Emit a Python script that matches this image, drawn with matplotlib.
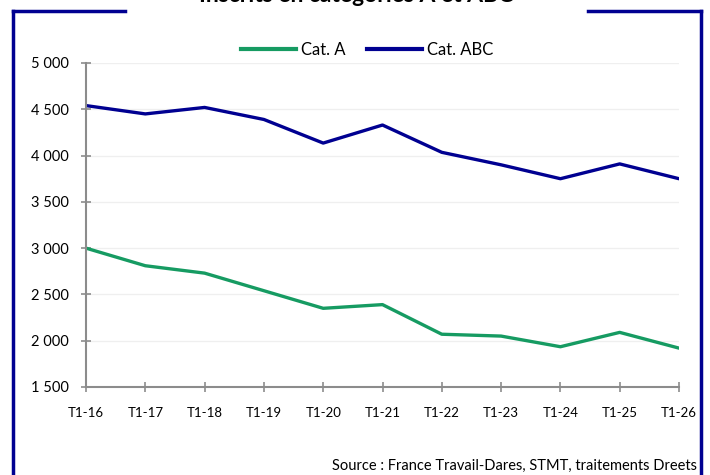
import matplotlib.pyplot as plt
from matplotlib.lines import Line2D

periodes = ["T1-16", "T1-17", "T1-18", "T1-19", "T1-20", "T1-21",
            "T1-22", "T1-23", "T1-24", "T1-25", "T1-26"]
cat_a = [3000, 2810, 2730, 2540, 2350, 2390, 2070, 2050, 1935, 2090, 1920]
cat_abc = [4540, 4450, 4520, 4390, 4135, 4330, 4035, 3900, 3750, 3910, 3750]
y_ticks = [1500, 2000, 2500, 3000, 3500, 4000, 4500, 5000]

vert = "#169B62"
bleu = "#000091"
gris = "#8c8c8c"

plt.rcParams['font.family'] = ['Lato', 'DejaVu Sans']

fig = plt.figure(figsize=(7.1, 4.75), dpi=100)
ax = fig.add_axes([86 / 710, 1 - 387 / 475, (679 - 86) / 710, (387 - 63) / 475])

x = list(range(len(periodes)))
ax.plot(x, cat_a, color=vert, lw=2.4, label="Cat. A", solid_capstyle='round')
ax.plot(x, cat_abc, color=bleu, lw=2.4, label="Cat. ABC", solid_capstyle='round')

ax.set_xlim(0, len(periodes) - 1)
ax.set_ylim(1500, 5000)
ax.set_xticks(x)
ax.set_xticklabels(periodes, fontsize=9.5)
ax.set_yticks(y_ticks)
ax.set_yticklabels([f"{v:,}".replace(",", " ") for v in y_ticks], fontsize=10.5)
ax.grid(axis='y', color="#efefef", lw=0.9)
ax.set_axisbelow(True)
for s in ['top', 'right']:
    ax.spines[s].set_visible(False)
for s in ['left', 'bottom']:
    ax.spines[s].set_color(gris)
    ax.spines[s].set_linewidth(1.5)
ax.tick_params(axis='both', direction='inout', length=6.5, width=1.2, color=gris)
ax.tick_params(axis='y', pad=9)
ax.tick_params(axis='x', pad=11)

leg = fig.legend(handles=[Line2D([], [], color=vert, lw=3), Line2D([], [], color=bleu, lw=3)],
                 labels=["Cat. A", "Cat. ABC"], loc='center', bbox_to_anchor=(367 / 710, 1 - 50 / 475),
                 ncol=2, frameon=False, fontsize=12, handlelength=3.3, handletextpad=0.3,
                 columnspacing=1.3)

# cadre bleu avec le titre qui coupe la ligne du haut
yt = 1 - 11 / 475
xl, xr = 13 / 710, 701 / 710
fig.add_artist(Line2D([xl, xl], [0, yt], color=bleu, lw=2.5, transform=fig.transFigure))
fig.add_artist(Line2D([xr, xr], [0, yt], color=bleu, lw=2.5, transform=fig.transFigure))
fig.add_artist(Line2D([xl, 125 / 710], [yt, yt], color=bleu, lw=2.5, transform=fig.transFigure))
fig.add_artist(Line2D([588 / 710, xr], [yt, yt], color=bleu, lw=2.5, transform=fig.transFigure))

# titre coupé en haut comme dans l'original
fig.text(356 / 710, 1 - 1.5 / 475, "Inscrits en catégories A et ABC", ha='center', va='baseline',
         fontsize=16.5, fontweight='bold', color='black')
fig.text(697 / 710, 1 - 466 / 475, "Source : France Travail-Dares, STMT, traitements Dreets",
         ha='right', va='center', fontsize=10.5)

fig.savefig("out.png", dpi=100)
